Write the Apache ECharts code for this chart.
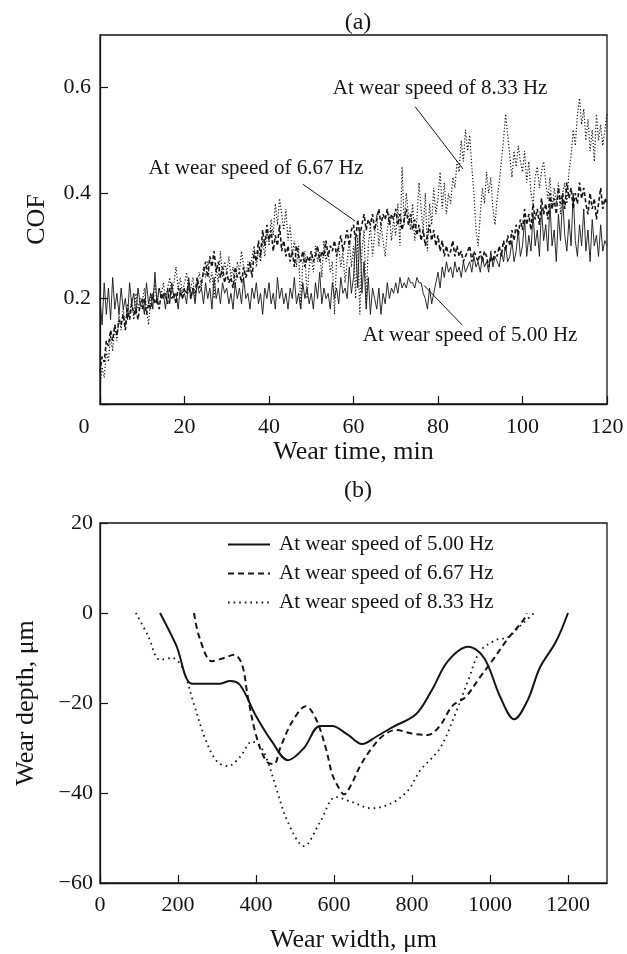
<!DOCTYPE html>
<html><head><meta charset="utf-8">
<script src="https://cdn.jsdelivr.net/npm/echarts@6/dist/echarts.min.js"></script>
<style>html,body{margin:0;padding:0;background:#fff}#c{width:627px;height:954px}</style>
</head><body><div id="c"></div>
<script>
// ---------- (a) COF vs wear time, samples every 0.5 min from 0 to 120 ----------
const timeStep = 0.5;
const cof500 = [
0.20,0.15,0.23,0.17,0.22,0.16,0.24,0.18,0.21,0.17,
0.22,0.18,0.20,0.16,0.23,0.19,0.21,0.17,0.22,0.19,
0.20,0.17,0.23,0.19,0.21,0.18,0.25,0.19,0.22,0.20,
0.21,0.18,0.22,0.19,0.23,0.20,0.21,0.18,0.22,0.20,
0.21,0.19,0.24,0.20,0.22,0.19,0.23,0.21,0.22,0.19,
0.23,0.20,0.22,0.18,0.24,0.20,0.22,0.19,0.23,0.21,
0.22,0.19,0.21,0.18,0.23,0.20,0.22,0.19,0.24,0.20,
0.21,0.18,0.22,0.20,0.23,0.19,0.21,0.17,0.22,0.20,
0.23,0.19,0.21,0.18,0.24,0.20,0.22,0.19,0.21,0.18,
0.22,0.20,0.24,0.19,0.21,0.18,0.23,0.20,0.22,0.19,
0.21,0.18,0.23,0.20,0.25,0.19,0.22,0.20,0.21,0.18,
0.23,0.20,0.22,0.19,0.24,0.21,0.22,0.20,0.26,0.21,
0.24,0.31,0.22,0.33,0.21,0.27,0.18,0.24,0.17,0.22,
0.20,0.18,0.22,0.17,0.21,0.19,0.23,0.20,0.22,0.21,
0.23,0.21,0.24,0.22,0.23,0.22,0.24,0.23,0.23,0.22,
0.24,0.23,0.23,0.21,0.20,0.18,0.22,0.19,0.21,0.23,
0.25,0.22,0.26,0.24,0.27,0.25,0.26,0.24,0.27,0.25,
0.26,0.24,0.27,0.25,0.26,0.27,0.25,0.28,0.26,0.27,
0.25,0.28,0.26,0.27,0.25,0.29,0.26,0.28,0.27,0.26,
0.29,0.27,0.30,0.27,0.28,0.31,0.27,0.29,0.33,0.28,
0.30,0.35,0.28,0.32,0.29,0.36,0.30,0.33,0.28,0.37,
0.31,0.34,0.29,0.38,0.30,0.33,0.27,0.36,0.31,0.39,
0.32,0.29,0.35,0.30,0.40,0.31,0.28,0.34,0.30,0.37,
0.29,0.33,0.27,0.35,0.30,0.32,0.28,0.34,0.29,0.31,
0.30];
const cof667 = [
0.06,0.09,0.08,0.12,0.11,0.14,0.12,0.15,0.13,0.16,
0.15,0.17,0.14,0.18,0.16,0.19,0.17,0.18,0.16,0.19,
0.18,0.20,0.17,0.19,0.18,0.21,0.19,0.20,0.18,0.21,
0.20,0.21,0.19,0.22,0.20,0.21,0.19,0.22,0.21,0.20,
0.22,0.21,0.23,0.20,0.22,0.21,0.24,0.22,0.23,0.25,
0.27,0.24,0.28,0.26,0.29,0.25,0.27,0.24,0.26,0.23,
0.25,0.23,0.24,0.22,0.26,0.24,0.25,0.23,0.26,0.24,
0.25,0.27,0.24,0.29,0.27,0.31,0.28,0.33,0.30,0.34,
0.31,0.33,0.29,0.32,0.30,0.34,0.29,0.31,0.28,0.30,
0.27,0.29,0.26,0.30,0.28,0.27,0.29,0.26,0.28,0.27,
0.29,0.27,0.28,0.30,0.27,0.29,0.28,0.31,0.28,0.30,
0.29,0.31,0.28,0.30,0.32,0.29,0.31,0.33,0.30,0.33,
0.34,0.31,0.35,0.32,0.34,0.36,0.33,0.35,0.34,0.36,
0.33,0.35,0.37,0.34,0.36,0.35,0.37,0.34,0.36,0.35,
0.37,0.34,0.36,0.33,0.35,0.37,0.34,0.36,0.33,0.35,
0.32,0.34,0.31,0.33,0.30,0.32,0.34,0.31,0.33,0.30,
0.32,0.29,0.31,0.28,0.30,0.28,0.29,0.31,0.28,0.30,
0.28,0.29,0.27,0.28,0.29,0.30,0.27,0.29,0.28,0.27,
0.29,0.27,0.29,0.28,0.26,0.28,0.27,0.29,0.28,0.30,
0.28,0.31,0.29,0.32,0.30,0.33,0.31,0.34,0.32,0.35,
0.33,0.37,0.34,0.36,0.33,0.38,0.35,0.37,0.34,0.39,
0.36,0.38,0.35,0.40,0.37,0.39,0.36,0.41,0.38,0.40,
0.37,0.42,0.39,0.41,0.37,0.40,0.38,0.42,0.39,0.41,
0.38,0.36,0.40,0.37,0.39,0.35,0.38,0.41,0.37,0.39,
0.38];
const cof833 = [
0.03,0.07,0.05,0.10,0.08,0.13,0.10,0.15,0.12,0.17,
0.14,0.18,0.15,0.19,0.17,0.20,0.16,0.21,0.18,0.20,
0.19,0.22,0.18,0.15,0.21,0.20,0.23,0.19,0.22,0.21,
0.23,0.20,0.22,0.24,0.21,0.23,0.26,0.22,0.24,0.21,
0.23,0.25,0.21,0.22,0.24,0.20,0.23,0.25,0.22,0.26,
0.24,0.27,0.23,0.25,0.20,0.26,0.23,0.29,0.24,0.27,
0.25,0.28,0.24,0.26,0.22,0.27,0.25,0.29,0.26,0.24,
0.27,0.25,0.28,0.30,0.26,0.29,0.27,0.31,0.28,0.33,
0.30,0.35,0.32,0.38,0.34,0.39,0.36,0.33,0.37,0.31,
0.34,0.28,0.31,0.26,0.30,0.18,0.27,0.29,0.20,0.26,
0.28,0.25,0.30,0.27,0.29,0.24,0.31,0.27,0.29,0.25,
0.27,0.17,0.28,0.30,0.26,0.29,0.23,0.27,0.31,0.26,
0.30,0.20,0.32,0.17,0.29,0.33,0.19,0.30,0.34,0.28,
0.32,0.36,0.30,0.34,0.31,0.28,0.33,0.36,0.31,0.35,
0.32,0.38,0.30,0.45,0.34,0.40,0.36,0.33,0.38,0.31,
0.35,0.42,0.37,0.33,0.40,0.29,0.38,0.34,0.41,0.36,
0.39,0.44,0.37,0.42,0.36,0.40,0.38,0.43,0.41,0.46,
0.44,0.50,0.46,0.52,0.48,0.51,0.45,0.40,0.33,0.30,
0.36,0.41,0.38,0.44,0.40,0.43,0.37,0.34,0.39,0.42,
0.46,0.50,0.55,0.51,0.47,0.43,0.48,0.45,0.49,0.46,
0.44,0.48,0.42,0.46,0.40,0.38,0.43,0.45,0.41,0.44,
0.46,0.42,0.39,0.43,0.37,0.41,0.38,0.42,0.36,0.40,
0.42,0.38,0.44,0.47,0.52,0.49,0.55,0.58,0.53,0.56,
0.50,0.54,0.48,0.52,0.46,0.55,0.50,0.53,0.49,0.52,
0.55];

// annotation callouts for (a), in data units (min, COF)
const annoText = ['At wear speed of 8.33 Hz', 'At wear speed of 6.67 Hz', 'At wear speed of 5.00 Hz'];
const annoTextAt = [[80.5, 0.598], [36.9, 0.446], [87.6, 0.130]];
const annoLineFrom = [[74.6, 0.564], [48.0, 0.417], [76.7, 0.225]];
const annoLineTo = [[85.9, 0.446], [60.4, 0.347], [85.7, 0.150]];

// ---------- (b) wear profiles ----------
const width500 = [154,195,236,277,308,333,359,400,441,482,523,564,595,636,672,708,749,810,851,892,944,985,1026,1062,1097,1128,1169,1200];
const depth500 = [0,-7.1,-15.7,-15.7,-15.7,-15.1,-16,-22.9,-28.6,-32.7,-30,-25.1,-25.1,-27.1,-29.1,-27.5,-25.4,-22.5,-17.1,-10.7,-7.5,-10,-18.6,-23.6,-19.3,-12.1,-6.4,0];
const width667 = [241,256,287,318,344,364,379,400,426,446,462,492,528,554,579,595,610,626,645,667,697,728,759,800,841,872,903,938,974,1005,1046,1087,1094];
const depth667 = [0,-5.7,-10.7,-10,-9.3,-11.4,-18.6,-27.1,-32.9,-33.6,-30,-24.3,-20.7,-23.6,-30,-35.7,-38.5,-40.3,-38,-34,-30,-27.1,-26,-26.8,-27.1,-25,-20.7,-18.6,-14.3,-10.7,-5.7,-1.4,0];
const width833 = [92,123,154,185,210,240,270,300,328,359,390,410,430,451,482,523,564,605,646,697,749,790,821,872,913,944,974,1015,1046,1077,1113];
const depth833 = [0,-5,-10.4,-10,-12,-20,-28,-33,-34,-32,-28.6,-29.5,-33,-38.7,-46.5,-51.8,-46.5,-40.9,-42,-43.4,-42.2,-39.4,-35,-30,-22,-15,-8.6,-6,-5.4,-2.9,0];
const legendNames = ['At wear speed of 5.00 Hz', 'At wear speed of 6.67 Hz', 'At wear speed of 8.33 Hz'];

const FONT = 'Liberation Serif';
const INK = '#151515';
const pairsT = arr => arr.map((v, i) => [i * timeStep, v]);
const zip = (xs, ys) => xs.map((x, i) => [x, ys[i]]);
const minus = v => String(v).replace('-', '\u2212');

const axisCommon = {
  axisLine: { show: true, onZero: false, lineStyle: { color: INK, width: 1.3 } },
  axisTick: { show: true, inside: true, length: 8, lineStyle: { color: INK, width: 1.2 } },
  splitLine: { show: false },
  nameTextStyle: { fontFamily: FONT, fontSize: 26, color: INK },
  nameLocation: 'middle'
};
const labelCommon = { fontFamily: FONT, fontSize: 22, color: INK };

const chart = echarts.init(document.getElementById('c'), null, { renderer: 'canvas' });
chart.setOption({
  animation: false,
  backgroundColor: '#fff',
  title: [
    { text: '(a)', left: 353, top: 6, textAlign: 'center', textStyle: { fontFamily: FONT, fontSize: 24, fontWeight: 'normal', color: INK } },
    { text: '(b)', left: 353, top: 474, textAlign: 'center', textStyle: { fontFamily: FONT, fontSize: 24, fontWeight: 'normal', color: INK } }
  ],
  grid: [
    { left: 100, top: 35, width: 507, height: 369, show: true, borderColor: INK, borderWidth: 1.3, backgroundColor: 'transparent' },
    { left: 100, top: 523, width: 507, height: 360, show: true, borderColor: INK, borderWidth: 1.3, backgroundColor: 'transparent' }
  ],
  legend: {
    orient: 'vertical', left: 222, top: 529, itemWidth: 42, itemHeight: 10, itemGap: 8,
    data: legendNames,
    itemStyle: { opacity: 0 },
    textStyle: { fontFamily: FONT, fontSize: 21, color: INK, padding: [0, 0, 0, 4], lineHeight: 21 }
  },
  xAxis: [
    Object.assign({}, axisCommon, { gridIndex: 0, type: 'value', min: 0, max: 120, interval: 20, name: 'Wear time, min', nameGap: 33,
      axisLabel: Object.assign({}, labelCommon, { margin: 12,
        formatter: v => v === 0 ? '{z|0}' : String(v),
        rich: { z: { fontFamily: FONT, fontSize: 22, color: INK, padding: [0, 32, 0, 0] } } }) }),
    Object.assign({}, axisCommon, { gridIndex: 1, type: 'value', min: 0, max: 1300, interval: 200, name: 'Wear width, \u03bcm', nameGap: 44,
      axisLabel: Object.assign({}, labelCommon, { margin: 11, showMaxLabel: false, formatter: v => String(v) }) })
  ],
  yAxis: [
    Object.assign({}, axisCommon, { gridIndex: 0, type: 'value', min: 0, max: 0.7, interval: 0.2, name: 'COF', nameGap: 50,
      axisLabel: Object.assign({}, labelCommon, { margin: 9, showMaxLabel: false, formatter: v => v === 0 ? '' : v.toFixed(1) }) }),
    Object.assign({}, axisCommon, { gridIndex: 1, type: 'value', min: -60, max: 20, interval: 20, name: 'Wear depth, \u03bcm', nameGap: 61,
      axisLabel: Object.assign({}, labelCommon, { margin: 7, formatter: v => minus(v) }) })
  ],
  series: [
    { type: 'line', xAxisIndex: 0, yAxisIndex: 0, data: pairsT(cof833), symbol: 'none',
      lineStyle: { color: INK, width: 1.2, type: [1.2, 2] }, z: 2 },
    { type: 'line', xAxisIndex: 0, yAxisIndex: 0, data: pairsT(cof667), symbol: 'none',
      lineStyle: { color: INK, width: 1.6, type: [4, 2.5] }, z: 3 },
    { type: 'line', xAxisIndex: 0, yAxisIndex: 0, data: pairsT(cof500), symbol: 'none',
      lineStyle: { color: INK, width: 0.9 }, z: 4,
      markLine: { silent: true, symbol: ['none', 'none'], animation: false,
        lineStyle: { color: INK, width: 1, type: 'solid' }, label: { show: false },
        data: annoLineFrom.map((f, i) => [{ coord: f }, { coord: annoLineTo[i] }]) },
      markPoint: { silent: true, symbol: 'circle', symbolSize: 1, itemStyle: { color: 'rgba(0,0,0,0)' },
        label: { show: true, position: 'inside', fontFamily: FONT, fontSize: 21, color: INK, formatter: p => p.name },
        data: annoText.map((t, i) => ({ name: t, coord: annoTextAt[i] })) } },
    { name: legendNames[0], type: 'line', xAxisIndex: 1, yAxisIndex: 1, data: zip(width500, depth500), symbol: 'none', smooth: 0.35,
      lineStyle: { color: INK, width: 2 }, itemStyle: { color: INK } },
    { name: legendNames[1], type: 'line', xAxisIndex: 1, yAxisIndex: 1, data: zip(width667, depth667), symbol: 'none', smooth: 0.35,
      lineStyle: { color: INK, width: 2, type: [6, 4] }, itemStyle: { color: INK } },
    { name: legendNames[2], type: 'line', xAxisIndex: 1, yAxisIndex: 1, data: zip(width833, depth833), symbol: 'none', smooth: 0.35,
      lineStyle: { color: INK, width: 1.8, type: [1.6, 4] }, itemStyle: { color: INK } }
  ]
});
</script>
</body></html>
